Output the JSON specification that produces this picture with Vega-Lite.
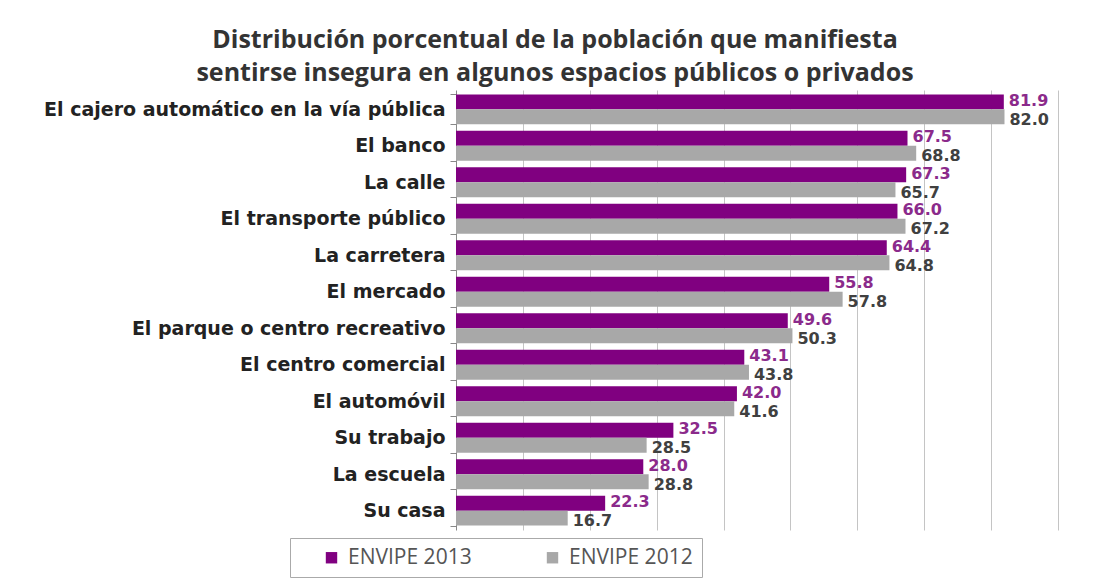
{
  "$schema": "https://vega.github.io/schema/vega-lite/v6.json",
  "width": 602,
  "height": 440,
  "autosize": {"type": "none"},
  "padding": {"left": 456, "top": 90, "right": 50, "bottom": 52},
  "background": "white",
  "title": {
    "text": ["Distribución  porcentual  de la población  que manifiesta", "sentirse  insegura  en algunos  espacios  públicos  o privados"],
    "font": "Open Sans",
    "fontSize": 25,
    "fontWeight": "bold",
    "color": "#333333",
    "anchor": "middle",
    "dx": -202,
    "offset": -5,
    "lineHeight": 33
  },
  "data": {
    "values": [
      {"lugar": "El cajero automático en la vía pública", "serie": "ENVIPE 2013", "valor": 81.9},
      {"lugar": "El cajero automático en la vía pública", "serie": "ENVIPE 2012", "valor": 82.0},
      {"lugar": "El banco", "serie": "ENVIPE 2013", "valor": 67.5},
      {"lugar": "El banco", "serie": "ENVIPE 2012", "valor": 68.8},
      {"lugar": "La calle", "serie": "ENVIPE 2013", "valor": 67.3},
      {"lugar": "La calle", "serie": "ENVIPE 2012", "valor": 65.7},
      {"lugar": "El transporte público", "serie": "ENVIPE 2013", "valor": 66.0},
      {"lugar": "El transporte público", "serie": "ENVIPE 2012", "valor": 67.2},
      {"lugar": "La carretera", "serie": "ENVIPE 2013", "valor": 64.4},
      {"lugar": "La carretera", "serie": "ENVIPE 2012", "valor": 64.8},
      {"lugar": "El mercado", "serie": "ENVIPE 2013", "valor": 55.8},
      {"lugar": "El mercado", "serie": "ENVIPE 2012", "valor": 57.8},
      {"lugar": "El parque o centro recreativo", "serie": "ENVIPE 2013", "valor": 49.6},
      {"lugar": "El parque o centro recreativo", "serie": "ENVIPE 2012", "valor": 50.3},
      {"lugar": "El centro comercial", "serie": "ENVIPE 2013", "valor": 43.1},
      {"lugar": "El centro comercial", "serie": "ENVIPE 2012", "valor": 43.8},
      {"lugar": "El automóvil", "serie": "ENVIPE 2013", "valor": 42.0},
      {"lugar": "El automóvil", "serie": "ENVIPE 2012", "valor": 41.6},
      {"lugar": "Su trabajo", "serie": "ENVIPE 2013", "valor": 32.5},
      {"lugar": "Su trabajo", "serie": "ENVIPE 2012", "valor": 28.5},
      {"lugar": "La escuela", "serie": "ENVIPE 2013", "valor": 28.0},
      {"lugar": "La escuela", "serie": "ENVIPE 2012", "valor": 28.8},
      {"lugar": "Su casa", "serie": "ENVIPE 2013", "valor": 22.3},
      {"lugar": "Su casa", "serie": "ENVIPE 2012", "valor": 16.7}
    ]
  },
  "encoding": {
    "y": {
      "field": "lugar",
      "type": "nominal",
      "sort": null,
      "scale": {"paddingInner": 0.18, "paddingOuter": 0.12},
      "axis": {
        "title": null,
        "labelFont": "DejaVu Sans",
        "labelFontWeight": "bold",
        "labelFontSize": 19,
        "labelColor": "#222222",
        "labelLimit": 500,
        "labelPadding": 5,
        "tickBand": "extent",
        "tickSize": 6,
        "tickColor": "#888888",
        "domainColor": "#888888",
        "grid": false
      }
    },
    "yOffset": {
      "field": "serie",
      "type": "nominal",
      "scale": {"domain": ["ENVIPE 2013", "ENVIPE 2012"], "paddingInner": 0, "paddingOuter": 0}
    },
    "x": {
      "field": "valor",
      "type": "quantitative",
      "scale": {"domain": [0, 90], "nice": false},
      "axis": {
        "title": null,
        "labels": false,
        "ticks": false,
        "domain": false,
        "grid": true,
        "values": [10, 20, 30, 40, 50, 60, 70, 80, 90],
        "gridColor": "#c4c4c4",
        "gridWidth": 1
      }
    }
  },
  "layer": [
    {
      "mark": {"type": "bar"},
      "encoding": {
        "color": {
          "field": "serie",
          "type": "nominal",
          "scale": {"domain": ["ENVIPE 2013", "ENVIPE 2012"], "range": ["#800080", "#A8A8A8"]},
          "legend": {
            "title": null,
            "orient": "none",
            "legendX": -166,
            "legendY": 448,
            "direction": "horizontal",
            "labelFont": "Open Sans",
            "labelFontSize": 21,
            "labelColor": "#555555",
            "labelOffset": 6,
            "symbolType": "square",
            "symbolSize": 130,
            "symbolStrokeWidth": 0,
            "symbolOffset": 22,
            "columnPadding": 48,
            "padding": 9,
            "strokeColor": "#aaaaaa"
          }
        }
      }
    },
    {
      "transform": [{"filter": "datum.serie == 'ENVIPE 2013'"}],
      "mark": {"type": "text", "align": "left", "baseline": "middle", "dx": 5, "dy": -1, "font": "DejaVu Sans", "fontWeight": "bold", "fontSize": 16, "color": "#8B2A8B"},
      "encoding": {"text": {"field": "valor", "type": "quantitative", "format": ".1f"}}
    },
    {
      "transform": [{"filter": "datum.serie == 'ENVIPE 2012'"}],
      "mark": {"type": "text", "align": "left", "baseline": "middle", "dx": 5, "dy": 3, "font": "DejaVu Sans", "fontWeight": "bold", "fontSize": 16, "color": "#404040"},
      "encoding": {"text": {"field": "valor", "type": "quantitative", "format": ".1f"}}
    }
  ],
  "config": {"view": {"stroke": null}}
}
